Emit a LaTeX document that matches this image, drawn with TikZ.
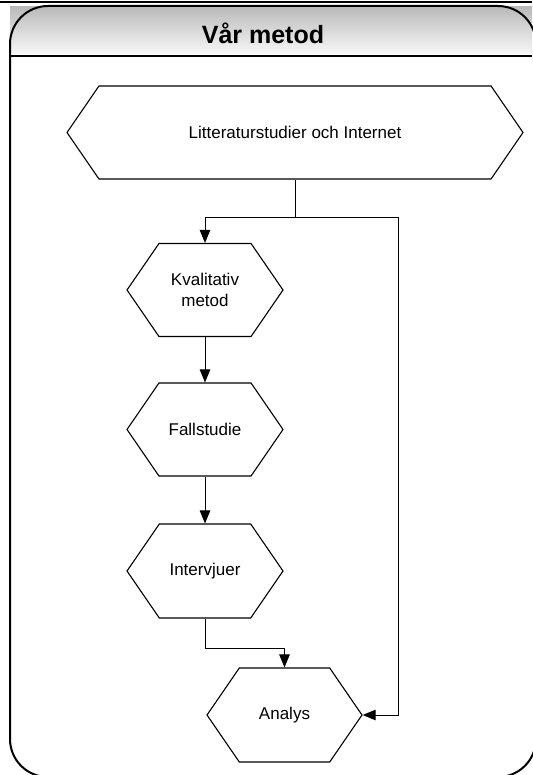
\documentclass[tikz,border=0pt]{standalone}
\usepackage{fontspec}
\setmainfont{Liberation Sans}
\usetikzlibrary{shapes.symbols,arrows.meta}
\begin{document}
\begin{tikzpicture}[x=1pt,y=1pt,
  hexa/.style={shape=signal, signal to=west and east, signal pointer angle=111,
    draw=black, line width=1.1pt, minimum height=93pt, inner sep=0pt,
    align=center, font=\fontsize{17}{21}\selectfont},
  conn/.style={draw=black, line width=0.9pt},
  arr/.style={conn, -{Triangle[length=13pt,width=10.5pt]}},
  framebox/.style={draw=black, line width=2pt, rounded corners=38pt},
  titletext/.style={font=\bfseries\fontsize{25}{30}\selectfont}
]
\useasboundingbox (0,0) rectangle (532,-775);
% title band
\shade[top color=black!27, bottom color=black!3] (10,-7) rectangle (532,-54);
\draw[line width=1.2pt] (0,-2) -- (532,-2);
\draw[framebox] (10,-6) rectangle (536,-777);
\draw[line width=1.5pt] (10,-56) -- (532,-56);
\node[titletext] (title) at (263,-33) {Vår metod};

% nodes
\node[hexa, minimum width=456pt] (lit) at (295,-132.5) {Litteraturstudier och Internet};
\node[hexa, minimum width=156pt] (kval) at (205,-290) {Kvalitativ\\metod};
\node[hexa, minimum width=156pt] (fall) at (205,-429.5) {Fallstudie};
\node[hexa, minimum width=156pt, minimum height=94pt] (intv) at (205,-571) {Intervjuer};
\node[hexa, minimum width=155pt, minimum height=94pt] (anal) at (284.5,-715) {Analys};

% connectors
\coordinate (j) at (295,-217);
\coordinate (jr) at (398,-217);
\coordinate (m) at (284.5,-648);
\draw[arr] (lit.south) -- (j) -| (kval.north);
\draw[arr] (j) -- (jr) |- (anal.east);
\draw[arr] (kval.south) -- (fall.north);
\draw[arr] (fall.south) -- (intv.north);
\draw[arr] (intv.south) |- (m) -- (anal.north);
\end{tikzpicture}
\end{document}
